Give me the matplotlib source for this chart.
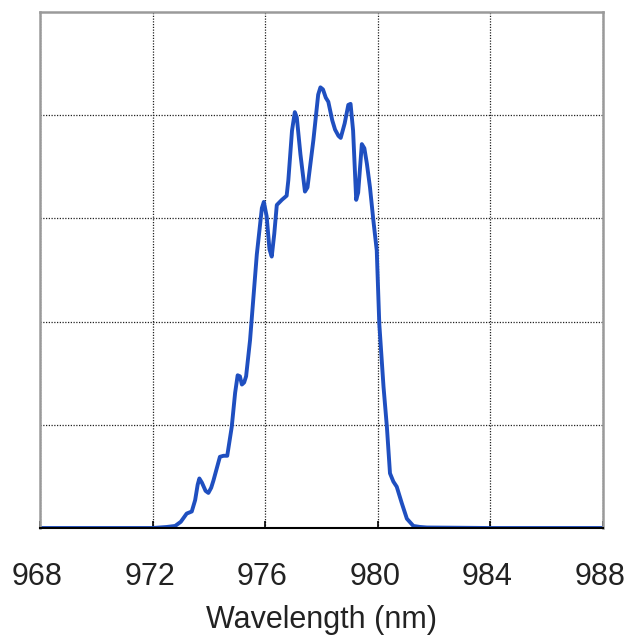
import numpy as np
import matplotlib
matplotlib.use('Agg')
import matplotlib.pyplot as plt
import matplotlib.transforms as mtransforms

# spectrum (wavelength in nm, intensity in arb. units)
wavelength = [968.0, 970.0, 972.0, 972.5, 972.8, 973.0, 973.21, 973.39, 973.51,
              973.6, 973.66, 973.75, 973.88, 973.98, 974.08, 974.16, 974.3,
              974.39, 974.52, 974.65, 974.81, 974.93, 975.02, 975.1, 975.17,
              975.25, 975.32, 975.46, 975.7, 975.88, 975.95, 976.05, 976.15,
              976.23, 976.32, 976.41, 976.59, 976.76, 976.82, 976.95, 977.05,
              977.12, 977.25, 977.41, 977.5, 977.71, 977.88, 977.96, 978.05,
              978.15, 978.24, 978.38, 978.48, 978.6, 978.68, 978.82, 978.95,
              979.03, 979.12, 979.23, 979.3, 979.43, 979.52, 979.61, 979.72,
              979.84, 979.96, 980.05, 980.2, 980.32, 980.43, 980.55, 980.67,
              980.85, 981.03, 981.26, 981.5, 981.74, 984.0, 988.0]
intensity = [0.0, 0.0, 0.0, 0.01, 0.02, 0.06, 0.14, 0.16, 0.27,
             0.42, 0.48, 0.44, 0.36, 0.34, 0.39, 0.46, 0.6,
             0.69, 0.70, 0.70, 0.98, 1.31, 1.48, 1.47, 1.39,
             1.41, 1.47, 1.82, 2.65, 3.1, 3.16, 3.02, 2.7,
             2.63, 2.85, 3.13, 3.18, 3.22, 3.37, 3.85, 4.03,
             3.98, 3.62, 3.26, 3.3, 3.76, 4.2, 4.27, 4.25,
             4.17, 4.13, 3.95, 3.86, 3.8, 3.78, 3.92, 4.1,
             4.11, 3.85, 3.18, 3.25, 3.72, 3.68, 3.53, 3.3,
             2.98, 2.69, 1.98, 1.37, 0.98, 0.53, 0.45, 0.40,
             0.24, 0.09, 0.02, 0.01, 0.005, 0.0, 0.0]

xticks = [968, 972, 976, 980, 984, 988]
ygrid = [1, 2, 3, 4]

fig = plt.figure(figsize=(6.25, 6.39), dpi=100)
ax = fig.add_axes([0.064, 0.1737, 0.901, 0.8075])

ax.plot(wavelength, intensity, color='#1f4fc0', lw=2.8,
        solid_joinstyle='round', solid_capstyle='round')

ax.set_xlim(968, 988)
ax.set_ylim(0, 5)
ax.set_xticks(xticks)
ax.set_yticks(ygrid)
ax.set_yticklabels([])
ax.tick_params(axis='y', length=0)
ax.tick_params(axis='x', direction='in', length=5, width=1.2, color='black',
               pad=24.5, labelsize=22, labelcolor='#222222')
ax.grid(True, color='#222222', linestyle=(0, (1, 1.2)), linewidth=0.9)

for s in ['left', 'top', 'right']:
    ax.spines[s].set_color('#9a9a9a')
    ax.spines[s].set_linewidth(1.8)
ax.spines['bottom'].set_color('black')
ax.spines['bottom'].set_linewidth(1.5)

# labels sit a few pixels left of their grid lines in the original
shift = mtransforms.ScaledTranslation(-3 / 100, 0, fig.dpi_scale_trans)
for lab in ax.get_xticklabels():
    lab.set_fontfamily('Liberation Sans')
    lab.set_transform(lab.get_transform() + shift)
ax.set_xlabel('Wavelength (nm)', fontsize=22, fontfamily='Liberation Sans',
              labelpad=9, color='#222222')

fig.savefig('out.png', dpi=100)
